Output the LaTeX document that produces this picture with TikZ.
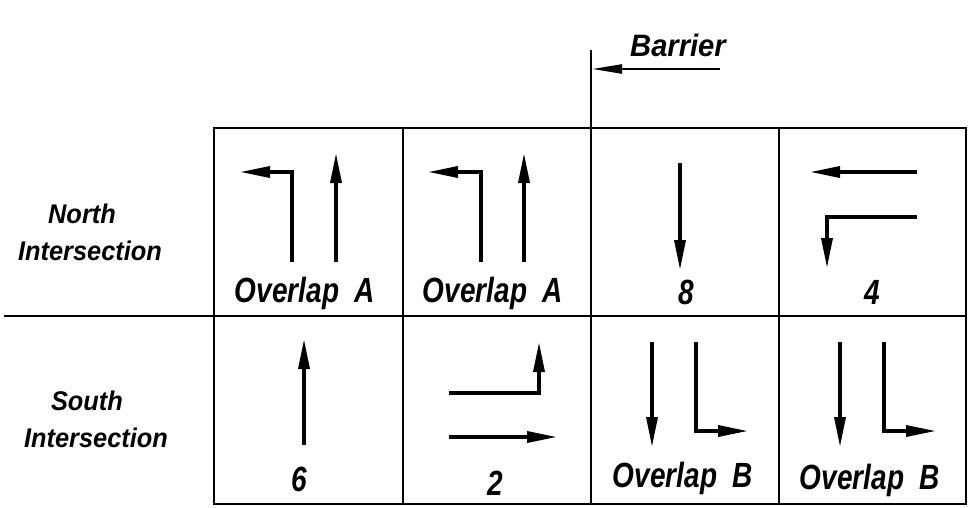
\documentclass[tikz,border=0pt]{standalone}
\usepackage{fontspec}
\usetikzlibrary{arrows.meta}
\newfontfamily\cadfont[FakeStretch=0.8]{Liberation Sans}
\newfontfamily\sidefont[FakeStretch=0.94]{Liberation Sans}
\begin{document}
\begin{tikzpicture}[x=1pt,y=-1pt,
  grid/.style={line width=2.6pt,line cap=rect},
  mv/.style={line width=3.4pt,line join=miter,-{Triangle[length=30pt,width=11pt]}},
  bar/.style={line width=2.4pt,-{Triangle[length=30pt,width=9pt]}},
  cell/.style={anchor=base,font=\cadfont\bfseries\itshape\fontsize{35}{36}\selectfont},
  side/.style={anchor=base,font=\sidefont\bfseries\itshape\fontsize{27}{30}\selectfont}]
\useasboundingbox (0,0) rectangle (969,507);
% grid
\draw[grid] (214,128) -- (966,128);
\draw[grid] (5,316) -- (966,316);
\draw[grid] (214,504) -- (966,504);
\foreach \x in {214,403,591,779,966} \draw[grid] (\x,128) -- (\x,504);
% barrier
\coordinate (btop) at (591,50);
\coordinate (bbot) at (591,128);
\draw[line width=2.2pt] (btop) -- (bbot);
\coordinate (bs) at (720,69);
\coordinate (be) at (592,69);
\draw[bar] (bs) -- (be);
\node[side,font=\sidefont\bfseries\itshape\fontsize{31}{32}\selectfont] (barrier) at (678,56) {Barrier};
% side labels
\node[side] (n1) at (82,223) {North};
\node[side] (n2) at (90,260) {Intersection};
\node[side] (s1) at (87,410) {South};
\node[side] (s2) at (96,447) {Intersection};
% north row
\draw[mv] (292,262) -- (292,172) -- (240,172);
\draw[mv] (336,262) -- (336,153);
\draw[mv] (481,262) -- (481,172) -- (428,172);
\draw[mv] (524,262) -- (524,153);
\draw[mv] (680,163) -- (680,270);
\draw[mv] (917,172) -- (810,172);
\draw[mv] (917,217) -- (827,217) -- (827,268);
\node[cell] (c1) at (305,302) {Overlap\ \ A};
\node[cell] (c2) at (493,302) {Overlap\ \ A};
\node[cell] (c3) at (686,304) {8};
\node[cell] (c4) at (872,304) {4};
% south row
\draw[mv] (304,445) -- (304,339);
\draw[mv] (449,393) -- (539,393) -- (539,342);
\draw[mv] (449,437) -- (557,437);
\draw[mv] (652,342) -- (652,447);
\draw[mv] (696,342) -- (696,431) -- (748,431);
\draw[mv] (840,342) -- (840,447);
\draw[mv] (884,342) -- (884,431) -- (936,431);
\node[cell] (c5) at (299,491) {6};
\node[cell] (c6) at (495,495) {2};
\node[cell] (c7) at (683,487) {Overlap\ \ B};
\node[cell] (c8) at (870,489) {Overlap\ \ B};
\end{tikzpicture}
\end{document}
